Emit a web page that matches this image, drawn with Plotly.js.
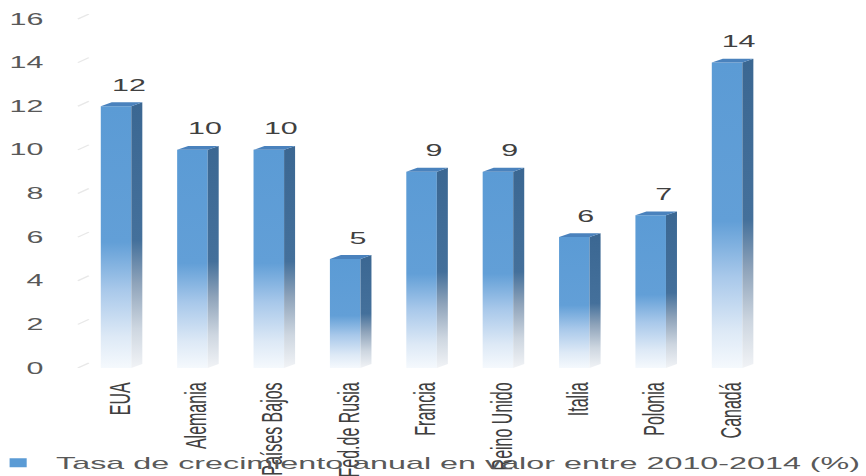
<!DOCTYPE html>
<html>
<head>
<meta charset="utf-8">
<script src="https://cdn.plot.ly/plotly-3.0.1.min.js"></script>
<style>
  html, body { margin: 0; padding: 0; background: #ffffff; overflow: hidden; }
  /* the chart is laid out narrow and stretched sideways to the full 866px width */
  #chart { width: 456px; height: 476px; transform: scaleX(1.8991); transform-origin: 0 0; }
</style>
</head>
<body>
<div id="chart"></div>
<script>
// ---- data ----
const categories = ['EUA', 'Alemania', 'Países Bajos', 'Fed.de Rusia', 'Francia', 'Reino Unido', 'Italia', 'Polonia', 'Canadá'];
const growth = [12, 10, 10, 5, 9, 9, 6, 7, 14];
const yTicks = [0, 2, 4, 6, 8, 10, 12, 14, 16];
const seriesName = 'Tasa de crecimiento anual en valor entre 2010-2014 (%)';

// ---- geometry of the pseudo-3D columns (category units / value units) ----
const halfW = 0.2;      // half width of the front face
const depthX = 0.144;   // horizontal depth of side and top faces
const depthY = 0.18;    // vertical depth of side and top faces
const wallY = 0.229;    // back wall offset for the gridlines
const wallX = 0.0157;   // back wall offset in paper units

const frontScale = [[0, '#f5f9fd'], [0.12, '#dde9f6'], [0.3, '#a8c8ea'], [0.48, '#629fd7'], [1, '#5b9bd5']];
const sideScale  = [[0, '#f1f3f6'], [0.15, '#cdd6e0'], [0.32, '#8ea3ba'], [0.48, '#44709b'], [1, '#3b6792']];

const traces = [];
growth.forEach(function (v, i) {
  const xl = i - halfW, xr = i + halfW;
  // front face
  traces.push({
    type: 'scatter', xaxis: 'x2', yaxis: 'y2', mode: 'none', fill: 'toself',
    x: [xl, xr, xr, xl, xl], y: [0, 0, v, v, 0],
    fillgradient: { type: 'vertical', colorscale: frontScale },
    hoverinfo: 'skip', showlegend: false
  });
  // right side face
  traces.push({
    type: 'scatter', xaxis: 'x2', yaxis: 'y2', mode: 'none', fill: 'toself',
    x: [xr, xr + depthX, xr + depthX, xr, xr], y: [0, depthY, v + depthY, v, 0],
    fillgradient: { type: 'vertical', colorscale: sideScale },
    hoverinfo: 'skip', showlegend: false
  });
  // top face
  traces.push({
    type: 'scatter', xaxis: 'x2', yaxis: 'y2', mode: 'none', fill: 'toself',
    x: [xl, xr, xr + depthX, xl + depthX, xl], y: [v, v, v + depthY, v + depthY, v],
    fillcolor: '#4a82bd',
    hoverinfo: 'skip', showlegend: false
  });
});

// legend entry for the series
traces.push({
  type: 'scatter', xaxis: 'x2', yaxis: 'y2', mode: 'markers',
  x: [null], y: [null], name: seriesName,
  marker: { symbol: 'square', size: 9, color: '#5b9bd5' },
  showlegend: true, hoverinfo: 'skip'
});

// short perspective links from the front edge to the back-wall gridlines
const shapes = yTicks.map(function (t) {
  return {
    type: 'line', xref: 'paper', yref: 'y2', layer: 'below',
    x0: 0, x1: wallX, y0: t, y1: t + wallY,
    line: { color: '#e8e8e8', width: 1 }
  };
});

const annotations = growth.map(function (v, i) {
  return {
    xref: 'x2', yref: 'y2', x: i + 0.16, y: v + depthY,
    text: String(v), showarrow: false, yanchor: 'middle', yshift: 17,
    font: { size: 16, color: '#404040' }
  };
});

const layout = {
  width: 456, height: 476,
  margin: { l: 40.5, r: 47, t: 14, b: 108, autoexpand: false },
  paper_bgcolor: '#ffffff', plot_bgcolor: 'rgba(0,0,0,0)',
  font: { family: 'Liberation Sans, Arial, sans-serif', color: '#595959' },
  // back wall: gridlines only
  xaxis: { domain: [wallX, 1], range: [0, 1], anchor: 'y', showgrid: false, zeroline: false,
           showticklabels: false, ticks: '', showline: false, fixedrange: true, automargin: false },
  yaxis: { domain: [0, 1], range: [-wallY, 16], anchor: 'x', tickvals: yTicks, showticklabels: false,
           showgrid: true, gridcolor: '#e8e8e8', gridwidth: 1, zeroline: false, ticks: '',
           fixedrange: true, automargin: false },
  // front plane: columns and axis labels
  xaxis2: { domain: [0, 0.9836], range: [-0.5, 8.5], anchor: 'y2',
            tickvals: categories.map(function (_, i) { return i; }), ticktext: categories,
            tickangle: -90, showgrid: false, zeroline: false, showline: false,
            ticks: 'outside', ticklen: 7, tickcolor: 'rgba(0,0,0,0)', ticklabelshift: 2,
            automargin: false, tickfont: { size: 16, color: '#404040' }, fixedrange: true },
  yaxis2: { domain: [0, 1], range: [0, 16 + wallY], anchor: 'x2', tickvals: yTicks,
            showgrid: false, zeroline: false, showline: false,
            ticks: 'outside', ticklen: 14, tickcolor: 'rgba(0,0,0,0)',
            automargin: false, tickfont: { size: 16, color: '#595959' }, fixedrange: true },
  showlegend: true,
  legend: { orientation: 'h', xref: 'paper', yref: 'container',
            x: -0.1398, xanchor: 'left', y: 0.027, yanchor: 'middle',
            bgcolor: 'rgba(0,0,0,0)', font: { size: 17.0, color: '#595959' } },
  shapes: shapes,
  annotations: annotations
};

Plotly.newPlot('chart', traces, layout, { displayModeBar: false, staticPlot: true });
</script>
</body>
</html>
